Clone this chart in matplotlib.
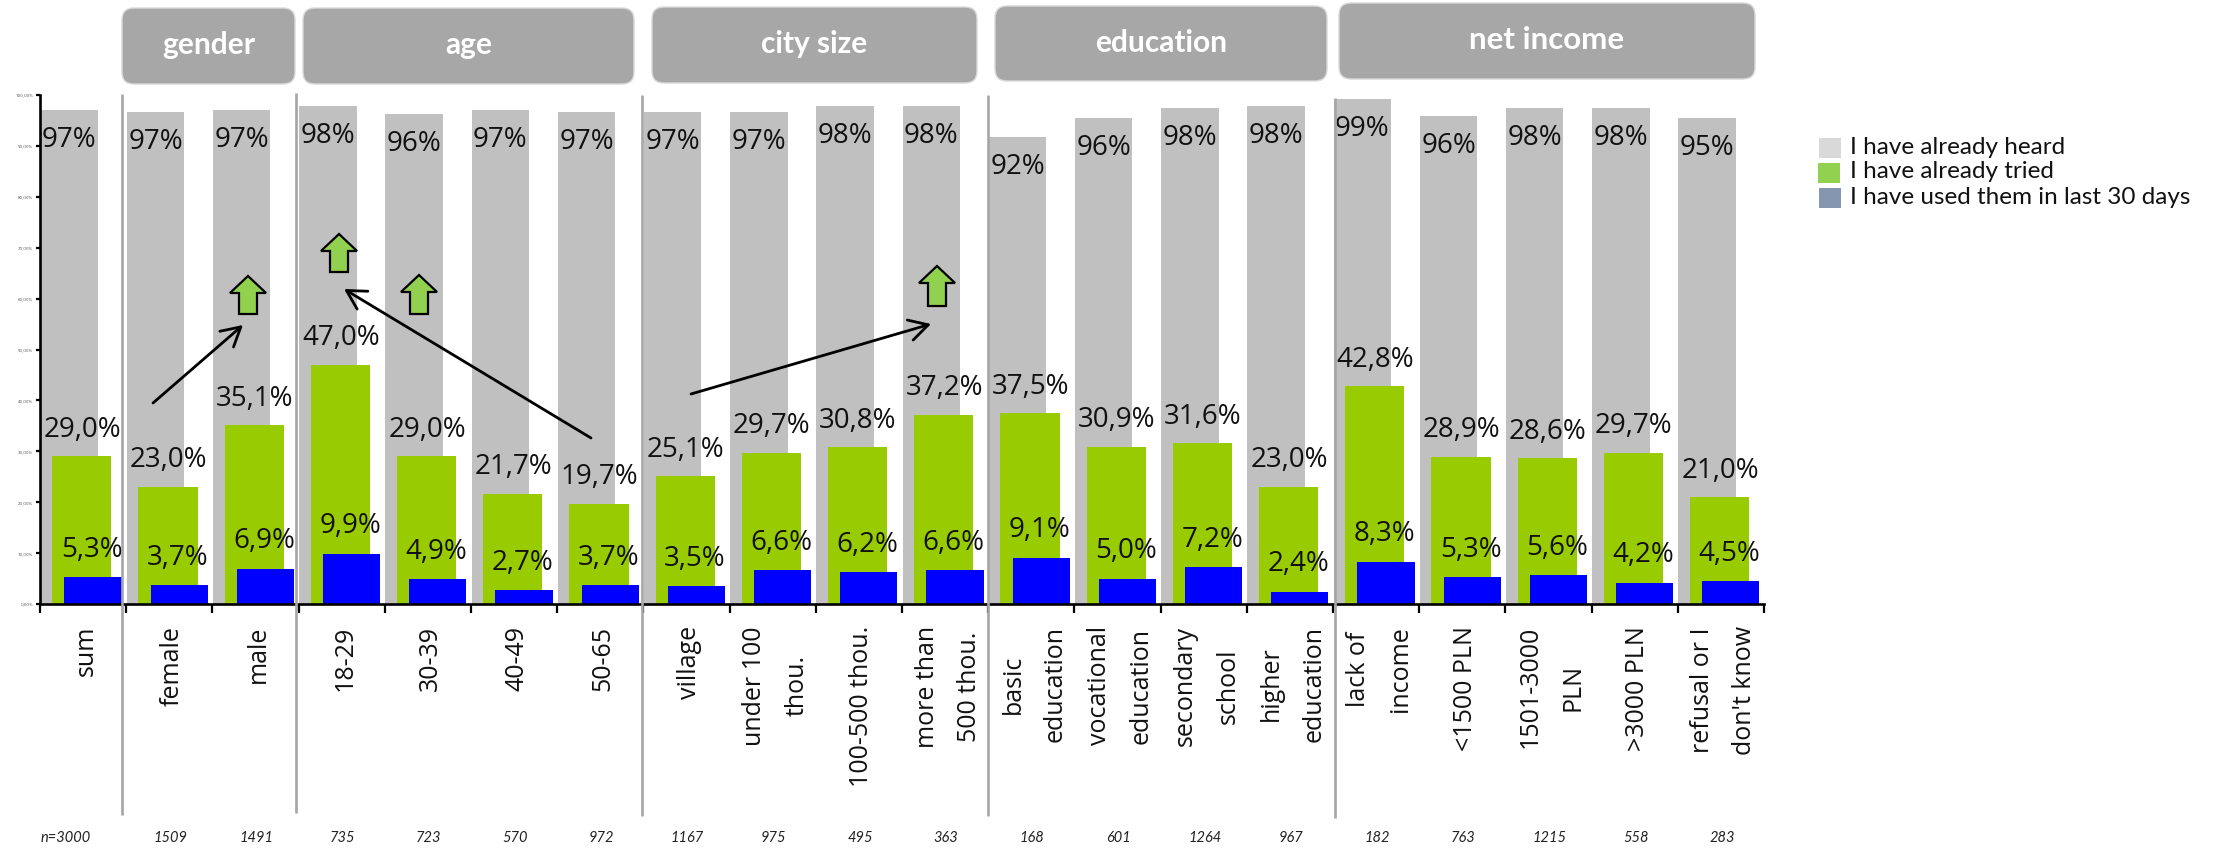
import matplotlib
matplotlib.use("Agg")
import matplotlib.pyplot as plt
from matplotlib.patches import FancyBboxPatch, Polygon, Rectangle
import numpy as np

W, H = 2218, 848
categories = ["sum", "female", "male", "18-29", "30-39", "40-49", "50-65", "village",
              "under 100\nthou.", "100-500 thou.", "more than\n500 thou.", "basic\neducation",
              "vocational\neducation", "secondary\nschool", "higher\neducation", "lack of\nincome",
              "<1500 PLN", "1501-3000\nPLN", ">3000 PLN", "refusal or I\ndon't know"]
counts = ["n=3000", "1509", "1491", "735", "723", "570", "972", "1167", "975", "495", "363",
          "168", "601", "1264", "967", "182", "763", "1215", "558", "283"]
heard = [97.0, 96.7, 97.0, 97.8, 96.3, 97.0, 96.7, 96.7, 96.7, 97.8, 97.8, 91.7, 95.5, 97.4, 97.8, 99.2, 95.9, 97.4, 97.4, 95.5]
heard_labels = [97, 97, 97, 98, 96, 97, 97, 97, 97, 98, 98, 92, 96, 98, 98, 99, 96, 98, 98, 95]
tried = [29.0, 23.0, 35.1, 47.0, 29.0, 21.7, 19.7, 25.1, 29.7, 30.8, 37.2, 37.5, 30.9, 31.6, 23.0, 42.8, 28.9, 28.6, 29.7, 21.0]
used = [5.3, 3.7, 6.9, 9.9, 4.9, 2.7, 3.7, 3.5, 6.6, 6.2, 6.6, 9.1, 5.0, 7.2, 2.4, 8.3, 5.3, 5.6, 4.2, 4.5]
series_names = ["I have already heard", "I have already tried", "I have used them in last 30 days"]
groups = ["gender", "age", "city size", "education", "net income"]

LABEL = "Open Sans"
CAL = "Lato"
INK = "#111111"
comma = lambda v: f"{v:.1f}".replace(".", ",") + "%"

fig = plt.figure(figsize=(W / 100, H / 100), dpi=100)
fig.patch.set_facecolor("white")
L, R, T, B = 40, 1764, 95, 604
ax = fig.add_axes([L / W, 1 - B / H, (R - L) / W, (B - T) / H])
x = np.arange(len(categories))
ax.bar(x + 0.34, heard, 0.665, color="#C0C0C0", zorder=2)
ax.bar(x + 0.485, tried, 0.685, color="#99CC00", zorder=3)
ax.bar(x + 0.615, used, 0.665, color="#0000FF", zorder=4)
ax.set_xlim(0, len(categories))
ax.set_ylim(0, 100)
ax.set_xticks(np.arange(len(categories) + 1))
ax.set_xticklabels([])
ax.set_yticks(np.arange(0, 101, 10))
ax.set_yticklabels([f"{v},00%" for v in range(0, 101, 10)], fontsize=3.2, color="#555555", family=LABEL)
ax.tick_params(axis="x", length=6.5, width=1.6, color="black")
ax.tick_params(axis="y", length=3, width=1.6, color="black", pad=2)
for s in ("top", "right"):
    ax.spines[s].set_visible(False)
for s in ("left", "bottom"):
    ax.spines[s].set_linewidth(1.9)
    ax.spines[s].set_zorder(6)

for i in x:
    ax.text(i + 0.34, heard[i] - 5.9, f"{heard_labels[i]}%", ha="center", va="center",
            fontsize=20, color=INK, family=LABEL, zorder=7)
    ax.text(i + 0.49, tried[i] + 5.2, comma(tried[i]), ha="center", va="center",
            fontsize=20, color=INK, family=LABEL, zorder=7)
    ax.text(i + 0.60, used[i] + 5.4, comma(used[i]), ha="center", va="center",
            fontsize=20, color=INK, family=LABEL, zorder=7)

ov = fig.add_axes([0, 0, 1, 1], zorder=10)
ov.set_xlim(0, W)
ov.set_ylim(H, 0)
ov.axis("off")

for i in x:
    center = L + (i + 0.5) * (R - L) / len(categories)
    ov.text(center + 3, 626, categories[i], rotation=90, ha="center", va="top", fontsize=18,
            color=INK, family=LABEL, linespacing=1.9, multialignment="center")
    ov.text(66 if i == 0 else center + 1, 838, counts[i], ha="center", va="center", fontsize=10.5,
            style="italic", color="#222222", family=CAL)

separators = [(122, 94, 815), (296, 93, 813), (642, 95, 816), (988, 95, 816), (1335, 98, 818)]
for sx, top, bottom in separators:
    ov.plot([sx, sx], [top, bottom], color="#A6A6A6", lw=1.9, solid_capstyle="butt")

boxes = [(122, 295, 8, 84), (303, 634, 8, 84), (652, 977, 7, 83), (995, 1327, 6, 81), (1339, 1755, 3, 79)]
head_sizes = [21.5, 21.5, 21.5, 21.5, 22.5]
for (x0, x1, y0, y1), g, fs in zip(boxes, groups, head_sizes):
    ov.add_patch(FancyBboxPatch((x0 + 12, y0 + 12), x1 - x0 - 24, y1 - y0 - 24,
                                boxstyle="round,pad=12,rounding_size=12", fc="#A7A7A7", ec="#D9D9D9", lw=1))
    ov.text((x0 + x1) / 2, (y0 + y1) / 2 - 1, g, ha="center", va="center", fontsize=fs,
            weight="bold", color="white", family=CAL)

def line_arrow(a, b):
    ov.annotate("", xy=b, xytext=a, arrowprops=dict(arrowstyle="->,head_length=1.35,head_width=0.75",
                color="black", lw=2, shrinkA=0, shrinkB=0))
line_arrow((153, 403), (243, 325))
line_arrow((591, 438), (344, 289))
line_arrow((691, 394), (931, 324))

def block_arrow(cx, tip, base):
    pts = [(cx, tip), (cx + 18, tip + 17), (cx + 9, tip + 17), (cx + 9, base),
           (cx - 9, base), (cx - 9, tip + 17), (cx - 18, tip + 17)]
    ov.add_patch(Polygon(pts, closed=True, fc="#92D050", ec="black", lw=1.6))
block_arrow(248, 276, 314)
block_arrow(339, 234, 272)
block_arrow(419, 275, 314)
block_arrow(937, 266, 306)

legend_colors = ["#D9D9D9", "#92D050", "#8496B0"]
for (nm, c, y, sx) in zip(series_names, legend_colors, [148, 173, 198], [1819, 1818, 1819]):
    ov.add_patch(Rectangle((sx, y - 10), 22, 20, fc=c, ec="none"))
    ov.text(1850, y - 1, nm, ha="left", va="center", fontsize=17.5, color=INK, family=CAL)

fig.savefig("out.png", dpi=100)
